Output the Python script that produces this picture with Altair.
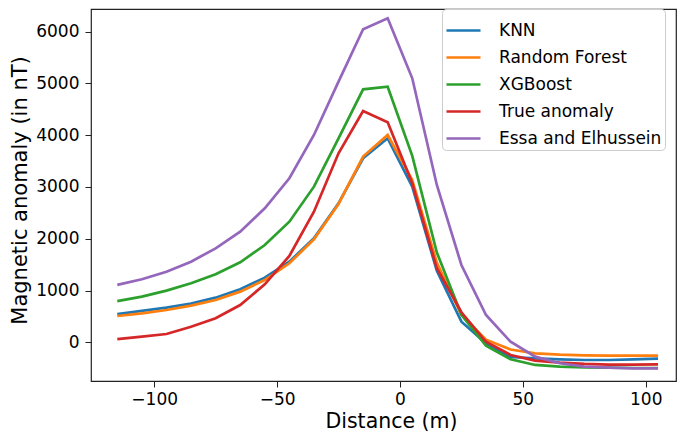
import altair as alt
import pandas as pd

distance = [-115, -105, -95, -85, -75, -65, -55, -45, -35, -25, -15, -5,
            5, 15, 25, 35, 45, 55, 65, 75, 85, 95, 105]

knn = [545, 605, 669, 746, 862, 1024, 1248, 1557, 2009, 2685, 3555, 3940,
       3006, 1380, 398, -20, -285, -310, -329, -342, -342, -329, -316]
random_forest = [508, 560, 624, 707, 817, 978, 1203, 1526, 1990, 2672, 3587, 4004,
                 3135, 1540, 527, 50, -140, -213, -239, -252, -259, -259, -259]
xgboost = [795, 881, 997, 1140, 1313, 1545, 1879, 2330, 3006, 3939, 4887, 4937,
           3600, 1735, 530, -65, -329, -438, -471, -484, -490, -497, -497]
true_anomaly = [60, 108, 160, 301, 463, 720, 1120, 1667, 2523, 3651, 4468, 4250,
                3071, 1430, 580, 10, -245, -355, -393, -419, -432, -432, -425]
essa = [1110, 1217, 1364, 1557, 1815, 2136, 2588, 3168, 4004, 5034, 6046, 6258,
        5099, 3039, 1493, 527, 10, -278, -406, -471, -490, -503, -503]

series_names = ["KNN", "Random Forest", "XGBoost", "True anomaly", "Essa and Elhussein"]
series_values = [knn, random_forest, xgboost, true_anomaly, essa]
colors = ["#1f77b4", "#ff7f0e", "#2ca02c", "#d62728", "#9467bd"]

x_ticks = [-100, -50, 0, 50, 100]
y_ticks = [0, 1000, 2000, 3000, 4000, 5000, 6000]

rows = []
for i, (name, vals) in enumerate(zip(series_names, series_values)):
    for d, v in zip(distance, vals):
        rows.append({"Distance": d, "Anomaly": v, "Model": name, "ord": i})
df = pd.DataFrame(rows)

FONT = "DejaVu Sans"

chart = alt.Chart(df).mark_line(strokeWidth=2.7, clip=True).encode(
    x=alt.X("Distance:Q",
            scale=alt.Scale(domain=[-125.7, 112.3], nice=False, zero=False),
            axis=alt.Axis(values=x_ticks, format="d", title="Distance (m)", grid=False,
                          tickSize=6, labelPadding=4, labelFontSize=17,
                          titleFontSize=20.5, titleFontWeight="normal",
                          titleBaseline="alphabetic", titleY=46, titleX=300,
                          domain=False, tickColor="#222", labelColor="#000",
                          titleColor="#000", labelFont=FONT, titleFont=FONT)),
    y=alt.Y("Anomaly:Q",
            scale=alt.Scale(domain=[-748, 6438], nice=False, zero=False),
            axis=alt.Axis(values=y_ticks, format="d", title="Magnetic anomaly (in nT)",
                          grid=False, tickSize=6, labelPadding=6, labelFontSize=17,
                          titleFontSize=21, titleFontWeight="normal",
                          titleBaseline="alphabetic", titleX=-65, titleY=181,
                          titleAngle=-90, titleAlign="center",
                          domain=False, tickColor="#222", labelColor="#000",
                          titleColor="#000", labelFont=FONT, titleFont=FONT)),
    color=alt.Color("Model:N",
                    scale=alt.Scale(domain=series_names, range=colors),
                    legend=alt.Legend(title=None, orient="none", legendX=351, legendY=0,
                                      symbolType="stroke", symbolSize=1156,
                                      symbolStrokeWidth=2.7, labelFontSize=17,
                                      labelFont=FONT, labelColor="#000", labelLimit=400,
                                      labelOffset=17, rowPadding=0, padding=3,
                                      fillColor="white", strokeColor="#cccccc",
                                      cornerRadius=4)),
    order=alt.Order("ord:Q"),
).properties(
    width=585, height=372,
    autosize=alt.AutoSizeParams(type="none"),
    padding={"left": 83, "top": 1, "right": 1, "bottom": 52},
).configure_view(
    stroke="#222", strokeWidth=1.2
)

chart.save("out.html", embed_options={"renderer": "svg", "actions": False})
